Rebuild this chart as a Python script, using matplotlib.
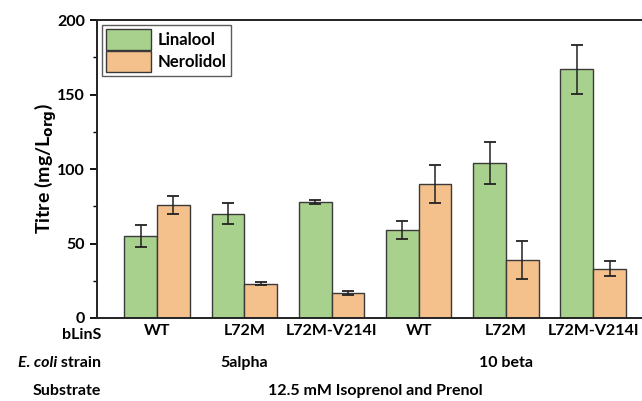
import numpy as np
import matplotlib.pyplot as plt
from matplotlib.transforms import blended_transform_factory

plt.rcParams['font.family'] = ['Lato', 'DejaVu Sans']
plt.rcParams['font.weight'] = 'bold'

variants = ['WT', 'L72M', 'L72M-V214I', 'WT', 'L72M', 'L72M-V214I']
strains = ['5alpha', '10 beta']
linalool = [55, 70, 78, 59, 104, 167]
linalool_err = [7.5, 7, 1.5, 6, 14, 16.5]
nerolidol = [76, 23, 17, 90, 39, 33]
nerolidol_err = [6, 1, 1.3, 13, 12.5, 5]

green = '#a9d18e'
orange = '#f4c18c'
fs = 11.5

fig = plt.figure(figsize=(6.42, 4.01), dpi=100)
ax = fig.add_axes([0.151, 0.207, 0.849, 0.743])

x = np.arange(len(variants))
w = 0.375
ekw = dict(ecolor='#222222', elinewidth=1.1, capsize=4, capthick=1.3)
ax.bar(x - w/2, linalool, w, yerr=linalool_err, color=green, edgecolor='#3a3a3a',
       linewidth=1.0, label='Linalool', error_kw=ekw)
ax.bar(x + w/2, nerolidol, w, yerr=nerolidol_err, color=orange, edgecolor='#3a3a3a',
       linewidth=1.0, label='Nerolidol', error_kw=ekw)

ax.set_xlim(-0.69, 5.56)
ax.set_ylim(0, 200)
ax.set_yticks([0, 50, 100, 150, 200])
ax.set_yticks([25, 75, 125, 175], minor=True)
ax.tick_params(axis='y', which='major', length=5, width=1.3, labelsize=fs)
ax.tick_params(axis='y', which='minor', length=3, width=1.0)
ax.set_xticks(x)
ax.set_xticklabels(variants, fontsize=fs, fontweight='bold')
ax.tick_params(axis='x', length=0, pad=4)
for lab in ax.get_yticklabels():
    lab.set_fontweight('bold')

for s in ['left', 'bottom', 'top']:
    ax.spines[s].set_linewidth(1.4)
    ax.spines[s].set_color('#222222')
ax.spines['right'].set_visible(False)

ax.set_ylabel('Titre (mg/L$_{\\mathbf{org}}$)', fontsize=14, fontweight='bold', labelpad=-1)

leg = ax.legend(loc='upper left', bbox_to_anchor=(0.0, 1.0), fontsize=12, frameon=True,
                fancybox=False, edgecolor='#333333', handlelength=2.7, handleheight=1.5,
                handletextpad=0.4, borderpad=0.25, labelspacing=0.1, borderaxespad=0.3)
leg.get_frame().set_linewidth(1.0)
for t in leg.get_texts():
    t.set_fontweight('bold')

trans = blended_transform_factory(ax.transData, fig.transFigure)
lx = 101 / 642
ty1 = 1 - 335 / 401
ty2 = 1 - 363 / 401
ty3 = 1 - 391 / 401
fig.text(lx, ty1, 'bLinS', ha='right', va='center', fontsize=fs, fontweight='bold')
strain_txt = fig.text(lx, ty2, ' strain', ha='right', va='center', fontsize=fs, fontweight='bold')
fig.text(lx, ty3, 'Substrate', ha='right', va='center', fontsize=fs, fontweight='bold')

fig.canvas.draw()
bb = strain_txt.get_window_extent()
fig.text(bb.x0 / fig.bbox.width, ty2, 'E. coli', ha='right', va='center', fontsize=fs,
         fontweight='bold', fontstyle='italic')

ax.text(1, ty2, strains[0], transform=trans, ha='center', va='center', fontsize=fs, fontweight='bold')
ax.text(4, ty2, strains[1], transform=trans, ha='center', va='center', fontsize=fs, fontweight='bold')
ax.text(2.5, ty3, '12.5 mM Isoprenol and Prenol', transform=trans, ha='center', va='center',
        fontsize=fs, fontweight='bold')

fig.savefig('out.png', dpi=100)
